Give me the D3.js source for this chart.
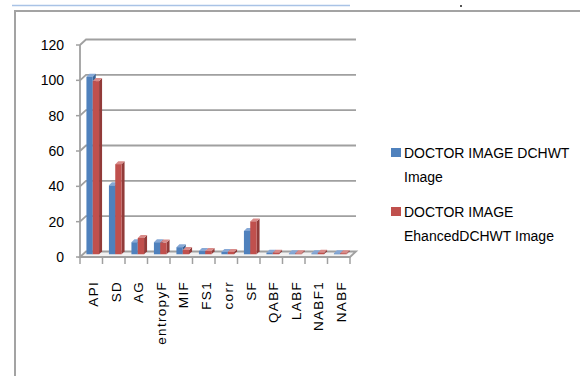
<!DOCTYPE html>
<html>
<head>
<meta charset="utf-8">
<script src="https://cdn.jsdelivr.net/npm/d3@7"></script>
<style>
  html, body { margin: 0; padding: 0; background: #fff; }
  svg { display: block; }
  text { font-family: "Liberation Sans", Arial, sans-serif; fill: #000; }
</style>
</head>
<body>
<svg id="chart" width="580" height="376"></svg>
<script>
// Image fusion quality metrics for the two doctor images
const categories = ["API", "SD", "AG", "entropyF", "MIF", "FS1", "corr", "SF", "QABF", "LABF", "NABF1", "NABF"];
const dchwtValues = [100.5, 39, 6.8, 6.8, 4, 1.8, 1.3, 13.2, 0.9, 0.5, 0.5, 0.5];
const enhancedValues = [98, 51, 9.2, 6.6, 2.4, 1.8, 1.3, 18.6, 0.9, 0.5, 0.9, 0.6];
const seriesNames = ["DOCTOR IMAGE DCHWT Image", "DOCTOR IMAGE EhancedDCHWT Image"];
const legendLines = [["DOCTOR IMAGE DCHWT", "Image"], ["DOCTOR IMAGE", "EhancedDCHWT Image"]];
const yTicks = [0, 20, 40, 60, 80, 100, 120];

const seriesValues = [dchwtValues, enhancedValues];
const colors = [
  { front: "#4F81BD", side: "#3A6394", top: "#86A8D6" },
  { front: "#C0504D", side: "#923B39", top: "#D98B89" }
];

const svg = d3.select("#chart");

// page frame
svg.append("line").attr("x1", 12).attr("x2", 350).attr("y1", 5.5).attr("y2", 5.5)
  .attr("stroke", "#A9C3E6").attr("stroke-width", 1.5);
svg.append("rect").attr("x", 460).attr("y", 5).attr("width", 2).attr("height", 2).attr("fill", "#555");
svg.append("line").attr("x1", 14).attr("x2", 580).attr("y1", 11).attr("y2", 11)
  .attr("stroke", "#A3A3A3").attr("stroke-width", 2);
svg.append("line").attr("x1", 15).attr("x2", 15).attr("y1", 11).attr("y2", 376)
  .attr("stroke", "#A3A3A3").attr("stroke-width", 2);

// 3D projection: back wall sits up and to the right of the front plane
const depthX = 6, depthY = -5.5;
const x0 = d3.scaleBand().domain(categories).range([80, 350]).paddingInner(0).paddingOuter(0);
const x1 = d3.scaleBand().domain(d3.range(seriesNames.length)).range([0, x0.bandwidth()])
  .paddingInner(0).paddingOuter(0.78);
const y = d3.scaleLinear().domain([0, 120]).range([257, 45]);

const grid = "#A0A0A0";

// back wall gridlines with diagonal stubs from the axis
const gl = svg.append("g");
yTicks.filter(v => v > 0).forEach(v => {
  gl.append("path")
    .attr("d", `M${x0.range()[0]},${y(v)} L${x0.range()[0] + depthX},${y(v) + depthY} L${x0.range()[1] + depthX},${y(v) + depthY}`)
    .attr("fill", "none").attr("stroke", grid).attr("stroke-width", 1.8);
});

// floor
const fx0 = x0.range()[0], fx1 = x0.range()[1];
svg.append("path")
  .attr("d", `M${fx0},${y(0)} L${fx0 + depthX},${y(0) + depthY} L${fx1 + depthX},${y(0) + depthY} L${fx1},${y(0)} Z`)
  .attr("fill", "#F2F2F2").attr("stroke", grid).attr("stroke-width", 1.8);

// vertical axis with ticks
svg.append("line").attr("x1", fx0).attr("x2", fx0).attr("y1", y(0)).attr("y2", y(120))
  .attr("stroke", grid).attr("stroke-width", 1.8);
svg.append("g").selectAll("line").data(yTicks).join("line")
  .attr("x1", fx0 - 4).attr("x2", fx0).attr("y1", d => y(d)).attr("y2", d => y(d))
  .attr("stroke", grid).attr("stroke-width", 1.5);
svg.append("g").selectAll("text").data(yTicks).join("text")
  .attr("x", 64).attr("y", d => y(d)).attr("dy", "0.35em")
  .attr("text-anchor", "end").attr("font-size", 14)
  .text(d => d);

// horizontal axis ticks at category boundaries
const bounds = categories.map(c => x0(c)).concat([fx1]);
svg.append("g").selectAll("line").data(bounds).join("line")
  .attr("x1", d => d).attr("x2", d => d).attr("y1", y(0)).attr("y2", y(0) + 7)
  .attr("stroke", grid).attr("stroke-width", 1.5);

// bars drawn as boxes at mid depth
const midX = depthX / 2 - 1.5, midY = depthY / 2;
const bx = 3, by = -3;
const bars = svg.append("g");
categories.forEach((c, i) => {
  seriesValues.forEach((vals, s) => {
    const v = vals[i];
    const left = x0(c) + x1(s) + midX;
    const w = x1.bandwidth();
    const top = y(v) + midY;
    const bottom = y(0) + midY;
    const col = colors[s];
    bars.append("path")
      .attr("d", `M${left + w},${bottom} L${left + w + bx},${bottom + by} L${left + w + bx},${top + by} L${left + w},${top} Z`)
      .attr("fill", col.side);
    bars.append("path")
      .attr("d", `M${left},${top} L${left + bx},${top + by} L${left + w + bx},${top + by} L${left + w},${top} Z`)
      .attr("fill", col.top);
    bars.append("rect")
      .attr("x", left).attr("y", top).attr("width", w).attr("height", Math.max(0, bottom - top))
      .attr("fill", col.front);
  });
});

// category labels, rotated
svg.append("g").selectAll("text").data(categories).join("text")
  .attr("transform", d => `translate(${x0(d) + x0.bandwidth() / 2 + 2},281) rotate(-90)`)
  .attr("dy", "0.36em")
  .attr("text-anchor", "end").attr("font-size", 13.5).attr("letter-spacing", 1.3)
  .text(d => d);

// legend
const lg = svg.append("g");
const legendY = [153, 212];
legendLines.forEach((lines, s) => {
  lg.append("rect").attr("x", 391).attr("y", legendY[s] - 5).attr("width", 10).attr("height", 9)
    .attr("fill", colors[s].front);
  lines.forEach((t, k) => {
    lg.append("text").attr("x", 404).attr("y", legendY[s] + 5 + k * 24)
      .attr("font-size", 14).text(t);
  });
});
</script>
</body>
</html>
